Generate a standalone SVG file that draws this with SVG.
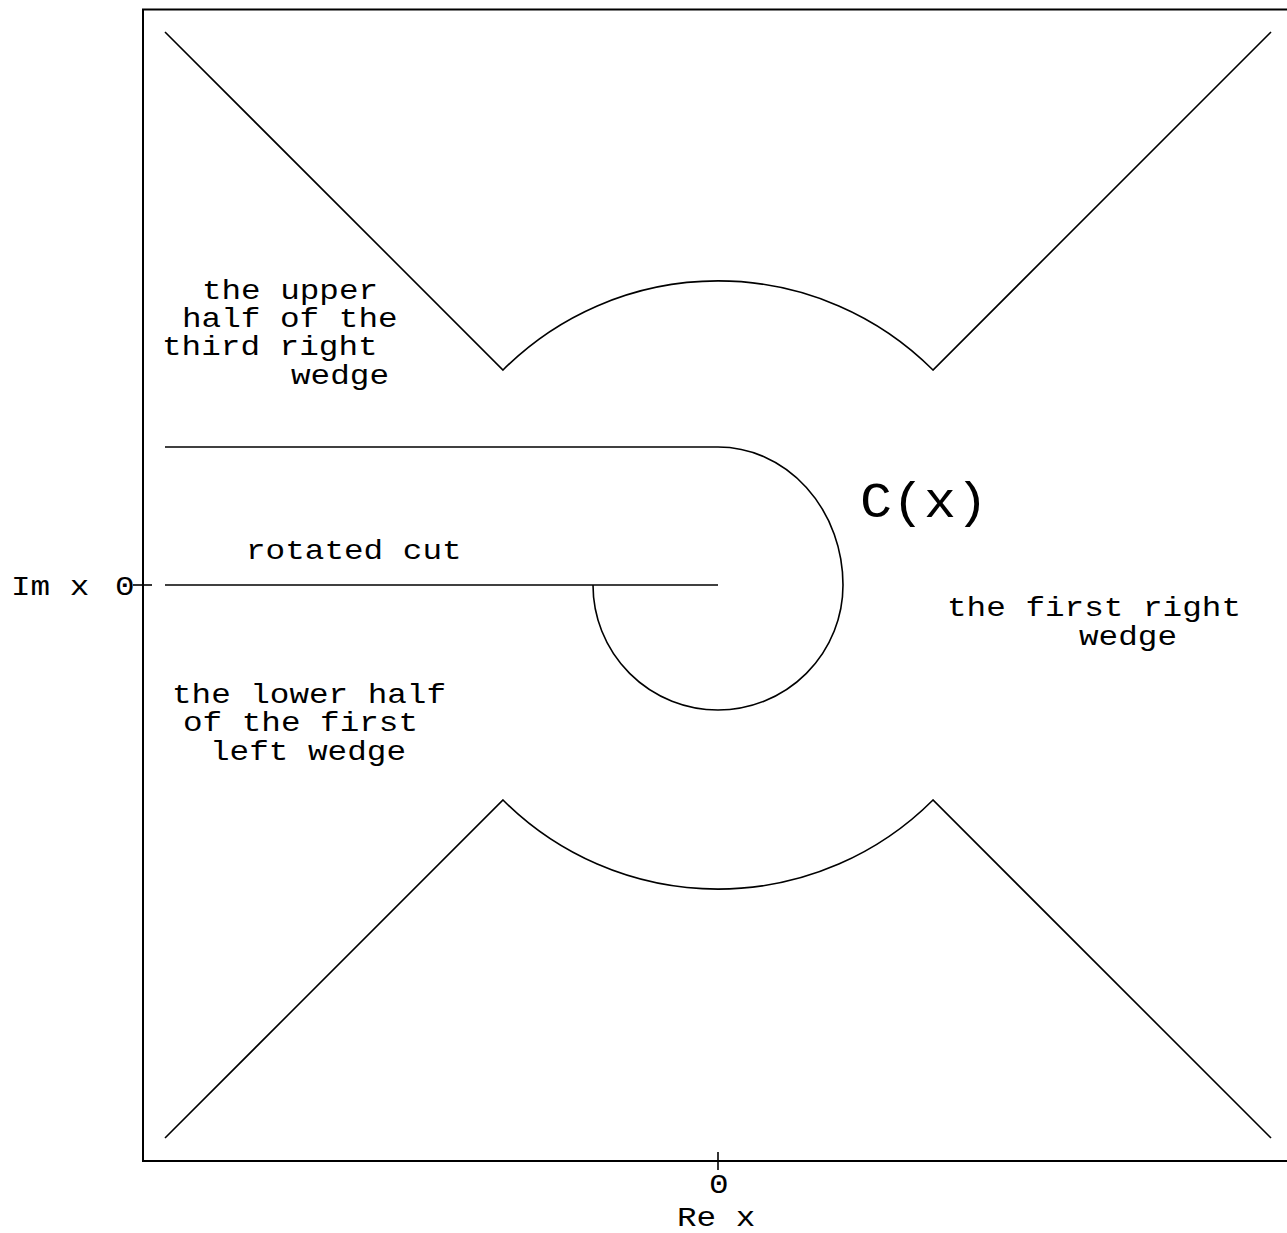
<svg xmlns="http://www.w3.org/2000/svg" width="1287" height="1233" viewBox="0 0 1287 1233">
<style>
.ln{fill:none;stroke:#000;stroke-width:1.6}
.fr{fill:none;stroke:#000;stroke-width:2}
text{font-family:"Liberation Mono","DejaVu Sans Mono",monospace;font-size:28px;fill:#000}
.big{font-size:50px}
</style>
<rect width="1287" height="1233" fill="#fff"/>
<g id="frame">
<rect class="fr" x="143" y="9.5" width="1150" height="1151.5"/>
<line class="ln" x1="718" y1="1152" x2="718" y2="1170"/>
<line class="ln" x1="133" y1="585" x2="152" y2="585"/>
<text x="709" y="1193" textLength="19.6" lengthAdjust="spacingAndGlyphs">0</text>
<text x="677" y="1226" textLength="78.4" lengthAdjust="spacingAndGlyphs">Re x</text>
<text x="11" y="595" textLength="78.4" lengthAdjust="spacingAndGlyphs">Im x</text>
<text x="115" y="595" textLength="19.6" lengthAdjust="spacingAndGlyphs">0</text>
</g>
<g id="connectors">
<path id="upper-boundary" class="ln" d="M165,32 L503,370 A304,304 0 0 1 933,370 L1271,32"/>
<path id="lower-boundary" class="ln" d="M165,1138 L503,800 A304,304 0 0 0 933,800 L1271,1138"/>
<line id="upper-cut" class="ln" x1="165" y1="447" x2="718" y2="447"/>
<line id="rotated-cut" class="ln" x1="165" y1="585" x2="718" y2="585"/>
<path id="contour" class="ln" d="M718,447 A125,138 0 0 1 843,585 A125,125 0 0 1 718,710 A125,125 0 0 1 593,585"/>
</g>
<g id="label-upper-third">
<text x="202" y="299" textLength="176" lengthAdjust="spacingAndGlyphs">the upper</text>
<text x="182" y="327" textLength="215.6" lengthAdjust="spacingAndGlyphs">half of the</text>
<text x="162" y="355" textLength="215.6" lengthAdjust="spacingAndGlyphs">third right</text>
<text x="291" y="384" textLength="98" lengthAdjust="spacingAndGlyphs">wedge</text>
</g>
<g id="label-rotated-cut">
<text x="246" y="559" textLength="215.6" lengthAdjust="spacingAndGlyphs">rotated cut</text>
</g>
<g id="label-lower-first-left">
<text x="172" y="703" textLength="274" lengthAdjust="spacingAndGlyphs">the lower half</text>
<text x="183" y="731" textLength="235" lengthAdjust="spacingAndGlyphs">of the first</text>
<text x="210" y="760" textLength="196" lengthAdjust="spacingAndGlyphs">left wedge</text>
</g>
<g id="label-first-right">
<text x="947" y="616" textLength="294" lengthAdjust="spacingAndGlyphs">the first right</text>
<text x="1079" y="645" textLength="98" lengthAdjust="spacingAndGlyphs">wedge</text>
</g>
<g id="label-C">
<text class="big" x="860" y="517" textLength="128" lengthAdjust="spacingAndGlyphs">C(x)</text>
</g>
</svg>
